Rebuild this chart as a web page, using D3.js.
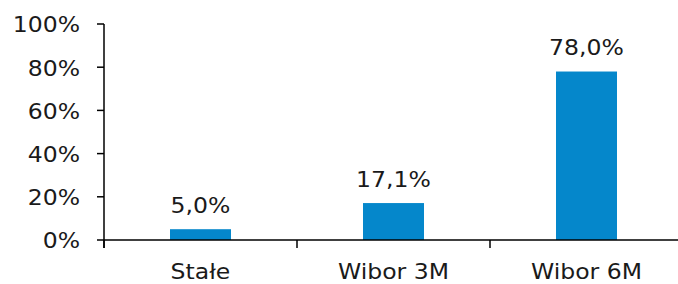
<!DOCTYPE html>
<html>
<head>
<meta charset="utf-8">
<script src="https://cdn.jsdelivr.net/npm/d3@7"></script>
<style>
  body { margin: 0; background: #fff; }
  text { font-family: "DejaVu Sans", Verdana, sans-serif; font-size: 21px; fill: #1a1a1a; }
</style>
</head>
<body>
<svg id="chart" width="678" height="284"></svg>
<script>
// dane
const categories = ["Stałe", "Wibor 3M", "Wibor 6M"];
const values = [5.0, 17.1, 78.0];
const yTicks = [0, 20, 40, 60, 80, 100];

const svg = d3.select("#chart");
const mLeft = 104, mRight = 683, mTop = 24, mBottom = 240;
const STRETCH = 1.12; // tekst w oryginale jest szerszy

const x = d3.scaleBand().domain(categories).range([mLeft, mRight]).paddingInner(0).paddingOuter(0);
const y = d3.scaleLinear().domain([0, 100]).range([mBottom, mTop]);

const barW = 61;

// slupki
svg.selectAll(".bar")
    .data(values)
    .enter().append("rect")
    .attr("class", "bar")
    .attr("x", (d, i) => x(categories[i]) + x.bandwidth() / 2 - barW / 2)
    .attr("y", d => y(d))
    .attr("width", barW)
    .attr("height", d => y(0) - y(d))
    .attr("fill", "#0587CB");

// etykiety wartosci
svg.selectAll(".valLabel")
    .data(values)
    .enter().append("text")
    .attr("class", "valLabel stretch")
    .attr("x", (d, i) => x(categories[i]) + x.bandwidth() / 2)
    .attr("y", d => y(d) - 16.5)
    .attr("text-anchor", "middle")
    .text(d => d.toFixed(1).replace(".", ",") + "%");

// os Y
let yAxis = svg.append("g").attr("transform", "translate(" + mLeft + ",0)");
yAxis.append("line")
    .attr("x1", 0).attr("x2", 0)
    .attr("y1", y(100)).attr("y2", mBottom + 8)
    .attr("stroke", "#000").attr("stroke-width", 1.5);
yTicks.forEach(function (t) {
    yAxis.append("line")
        .attr("x1", -7).attr("x2", 0)
        .attr("y1", y(t)).attr("y2", y(t))
        .attr("stroke", "#000").attr("stroke-width", 1.5);
    yAxis.append("text")
        .attr("class", "stretch")
        .attr("x", -24)
        .attr("y", y(t))
        .attr("dy", "0.4em")
        .attr("text-anchor", "end")
        .text(t + "%");
});

// os X
let xAxis = svg.append("g");
xAxis.append("line")
    .attr("x1", mLeft).attr("x2", mRight)
    .attr("y1", mBottom).attr("y2", mBottom)
    .attr("stroke", "#000").attr("stroke-width", 1.5);
categories.forEach(function (c) {
    xAxis.append("line")
        .attr("x1", x(c)).attr("x2", x(c))
        .attr("y1", mBottom).attr("y2", mBottom + 8)
        .attr("stroke", "#000").attr("stroke-width", 1.5);
    xAxis.append("text")
        .attr("class", "stretch")
        .attr("x", x(c) + x.bandwidth() / 2)
        .attr("y", 278.5)
        .attr("text-anchor", "middle")
        .text(c);
});

// rozciagniecie tekstu w poziomie
svg.selectAll(".stretch").each(function () {
    let len = this.getComputedTextLength();
    d3.select(this)
        .attr("textLength", len * STRETCH)
        .attr("lengthAdjust", "spacingAndGlyphs");
});
</script>
</body>
</html>
